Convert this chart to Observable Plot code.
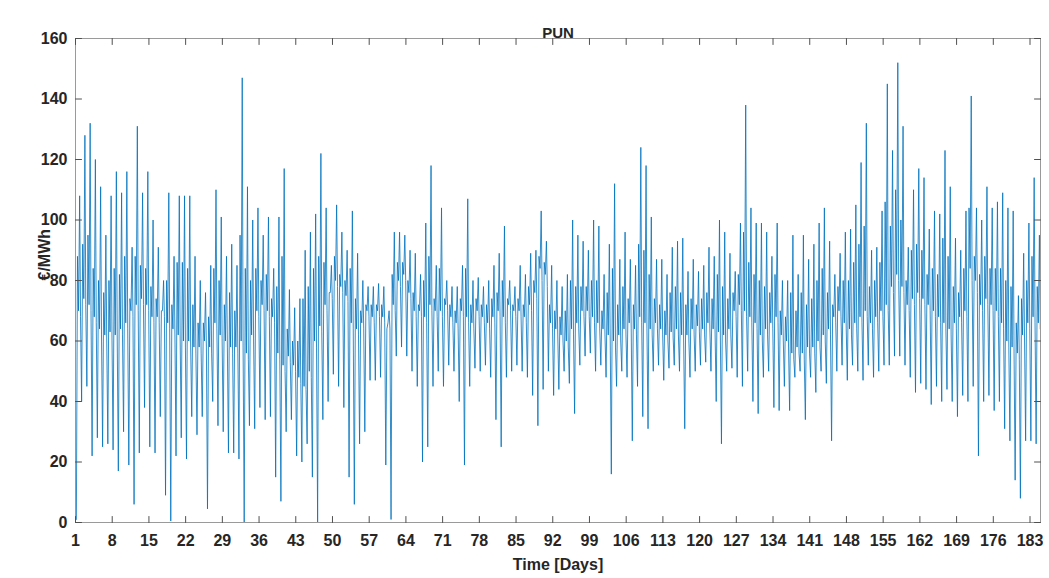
<!DOCTYPE html>
<html><head><meta charset="utf-8">
<script src="https://cdn.jsdelivr.net/npm/d3@7"></script>
<script src="https://cdn.jsdelivr.net/npm/@observablehq/plot@0.6"></script>
<style>body{margin:0;background:#fff}</style>
</head><body><div id="chart"></div>
<script>
const title = "PUN";
const xLabel = "Time [Days]";
const yLabel = "€/MWh";
const xTicks = [1, 8, 15, 22, 29, 36, 43, 50, 57, 64, 71, 78, 85, 92, 99, 106, 113, 120, 127, 134, 141, 148, 155, 162, 169, 176, 183];
const yTicks = [0, 20, 40, 60, 80, 100, 120, 140, 160];

// night minimum (€/MWh), days 1..184
const dailyLow = [
  1,40,45,22,28,25,26,24,17,30,
  19,6,23,38,25,23,35,9,0.5,22,
  28,21,35,29,35,4.5,40,32,30,23,
  23,21,0,32,31,38,34,35,15,7,
  30,34,22,20,26,15,0,34,40,49,
  45,38,15,6,26,30,47,47,48,19,
  1,55,58,55,50,45,20,25,45,50,
  45,52,50,40,19,45,51,50,52,48,
  34,25,48,50,52,50,48,42,32,44,
  50,42,44,50,46,36,52,55,56,50,
  52,48,16,45,50,48,27,45,35,31,
  50,52,47,51,52,50,31,48,50,52,
  53,50,40,26,50,51,48,45,50,40,
  36,48,50,38,37,45,37,48,50,34,
  48,43,50,46,27,50,52,47,52,50,
  47,52,48,50,52,52,55,55,52,48,
  43,46,44,39,45,40,44,40,35,42,
  40,45,22,40,42,37,40,31,27,14,
  8,27,27,26
];
// morning peak
const dailyMorning = [
  88,92,95,84,80,76,80,84,82,88,
  74,88,85,84,78,74,70,80,72,86,
  86,84,72,66,66,68,84,80,72,76,
  70,95,84,80,84,80,82,74,78,88,
  64,60,60,74,78,84,88,86,76,88,
  82,80,84,74,70,72,72,72,72,64,
  82,86,86,80,76,72,80,88,74,84,
  74,72,70,74,84,72,74,72,72,74,
  76,80,74,72,74,72,78,80,88,86,
  72,70,68,70,80,78,78,78,80,80,
  70,76,84,72,78,74,72,92,90,82,
  74,72,70,76,78,76,72,74,72,74,
  76,74,82,78,74,76,82,96,86,82,
  80,78,76,82,70,68,76,70,76,72,
  74,80,84,76,72,78,80,80,86,92,
  98,78,80,86,106,98,110,100,80,90,
  92,90,82,84,82,94,88,78,76,84,
  104,88,82,88,84,84,84,80,78,66,
  74,80,88,78
];
// afternoon (band) level
const dailyMid = [
  70,74,72,68,64,62,63,62,64,66,
  70,72,74,72,68,68,70,66,64,62,
  60,60,58,58,60,58,66,62,60,58,
  58,60,56,62,70,72,70,68,56,52,
  55,52,48,45,50,60,65,72,76,80,
  78,75,66,64,66,70,68,70,68,66,
  72,80,82,76,70,70,68,72,70,70,
  72,68,66,70,68,66,70,68,66,68,
  70,68,72,70,70,68,72,76,84,82,
  66,64,62,60,64,66,70,70,68,66,
  64,62,60,62,64,66,64,68,66,64,
  66,64,62,63,64,62,62,64,65,64,
  66,64,63,62,64,70,72,70,68,66,
  62,64,66,68,62,60,56,58,56,58,
  58,60,62,64,68,70,66,64,66,68,
  70,66,68,70,72,78,82,78,72,74,
  76,74,72,70,68,66,64,66,68,70,
  84,80,72,74,72,70,66,60,58,56,
  62,66,68,66
];
// evening peak
const dailyHigh = [
  108,128,132,120,111,95,108,116,109,116,
  91,131,109,116,100,91,80,109,88,108,
  108,108,88,80,76,85,110,101,88,92,
  85,147,111,100,104,95,101,84,101,117,
  77,71,74,90,96,102,122,104,85,105,
  96,90,103,89,80,78,78,79,78,70,
  96,96,95,90,89,82,99,118,85,104,
  80,78,78,85,107,80,81,78,80,85,
  89,98,80,78,85,82,89,90,103,93,
  85,80,78,82,100,95,93,90,100,98,
  82,92,112,87,96,87,85,124,118,101,
  87,87,82,91,93,94,83,87,83,85,
  91,88,100,96,89,83,99,138,104,99,
  99,96,88,99,80,80,95,82,95,87,
  92,99,104,93,82,89,96,97,105,119,
  132,90,91,103,145,123,152,131,91,110,
  117,114,97,103,102,123,111,94,90,103,
  141,104,100,111,104,106,109,104,103,75,
  89,99,114,95
];
// late evening
const dailyLate = [
  68,72,70,66,62,60,61,60,62,64,
  68,70,72,70,66,66,68,64,62,60,
  58,58,56,56,58,56,64,60,58,56,
  56,58,54,60,68,70,68,66,54,50,
  53,50,46,44,48,58,63,70,74,78,
  76,73,64,62,64,68,66,68,66,64,
  70,78,80,74,68,68,66,70,68,68,
  70,66,64,68,66,64,68,66,64,66,
  68,66,70,68,68,66,70,74,80,78,
  64,62,60,58,62,64,68,68,66,64,
  62,60,58,60,62,64,62,66,64,62,
  64,62,60,61,62,60,60,62,63,62,
  64,62,61,60,62,68,70,68,66,64,
  60,62,64,66,60,58,54,56,54,56,
  56,58,60,62,66,68,64,62,64,66,
  68,64,66,68,70,76,80,76,70,72,
  74,72,70,68,66,64,62,64,66,68,
  80,76,70,72,70,68,64,58,56,54,
  60,64,66,64
];

// hour of day of the five daily readings
const readingHours = [4, 9, 14, 19, 23];
const series = [dailyLow, dailyMorning, dailyMid, dailyHigh, dailyLate];
const rows = [];
dailyLow.forEach((_, i) => {
  const day = i + 1;
  series.forEach((s, k) => rows.push({t: day + readingHours[k] / 24, v: s[i]}));
});

const yMax = yTicks[yTicks.length - 1], xMin = 1, xMax = 185;
const axisGray = "#505050";
const tickLen = 6;
// straight-line tick shape for the vector mark
const tickShape = {draw(context, l) { context.moveTo(0, 0); context.lineTo(0, -l); }};
const tickStyle = {length: tickLen, anchor: "start", shape: tickShape, stroke: axisGray, strokeWidth: 1};

const chart = Plot.plot({
  width: 1049, height: 578,
  marginTop: 38, marginBottom: 56, marginLeft: 75, marginRight: 9,
  style: {fontFamily: "'Liberation Sans', Arial, sans-serif", fontSize: "16px", fontWeight: "bold", color: "#262626", background: "#fff"},
  x: {domain: [xMin, xMax]},
  y: {domain: [0, yMax]},
  marks: [
    Plot.lineY(rows, {x: "t", y: "v", stroke: "#0072BD", strokeWidth: 1, strokeOpacity: 0.8}),
    Plot.frame({stroke: "#9a9a9a"}),
    // inward tick marks on all four sides
    Plot.vector(xTicks, {x: d => d, y: 0, rotate: 0, ...tickStyle}),
    Plot.vector(xTicks, {x: d => d, y: yMax, rotate: 180, ...tickStyle}),
    Plot.vector(yTicks, {x: xMin, y: d => d, rotate: 90, ...tickStyle}),
    Plot.vector(yTicks, {x: xMax, y: d => d, rotate: -90, ...tickStyle}),
    Plot.axisX({ticks: xTicks, tickSize: 0, tickPadding: 12, tickFormat: d => String(d), label: null}),
    Plot.axisY({ticks: yTicks, tickSize: 0, tickPadding: 8, tickFormat: d => String(d), label: null}),
    Plot.text([title], {text: d => d, frameAnchor: "top", dy: -11, fontSize: 15, fontWeight: "bold"}),
    Plot.text([xLabel], {text: d => d, frameAnchor: "bottom", dy: 47, fontSize: 16, fontWeight: "bold"}),
    Plot.text([yLabel], {text: d => d, frameAnchor: "left", dx: -31, rotate: -90, fontSize: 16, fontWeight: "bold"})
  ]
});
document.getElementById("chart").appendChild(chart);
</script>
</body></html>
